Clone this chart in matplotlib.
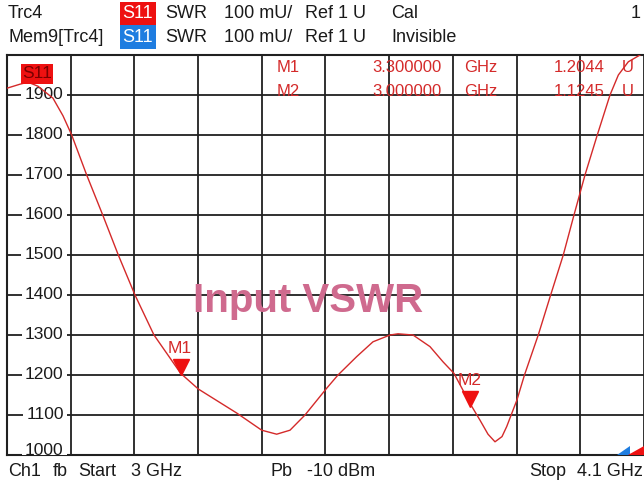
import matplotlib
matplotlib.use("Agg")
import matplotlib.pyplot as plt
import matplotlib.transforms as mtransforms
from matplotlib.patches import Rectangle, Polygon

plt.rcParams['font.family'] = ['Liberation Sans', 'DejaVu Sans']

# trace data: frequency (GHz) and SWR (mU)
freq = [3.000, 3.0224, 3.0363, 3.0535, 3.0794, 3.0967, 3.1117, 3.1376, 3.1653,
        3.1922, 3.2210, 3.2538, 3.3000, 3.3303, 3.3966, 3.4398, 3.4657, 3.4887,
        3.5146, 3.5521, 3.5716, 3.6039, 3.6320, 3.6614, 3.6752, 3.7011, 3.7304,
        3.7529, 3.7719, 3.7995, 3.8168, 3.8306, 3.8427, 3.8548, 3.8629, 3.8807,
        3.8936, 3.9174, 3.9388, 3.9606, 3.9791, 3.9981, 4.0193, 4.0413, 4.0557,
        4.0729, 4.0931, 4.1000]
swr = [1917, 1927, 1932, 1922, 1892, 1848, 1800, 1700, 1600,
       1500, 1400, 1300, 1204, 1165, 1105, 1062, 1052, 1062,
       1100, 1167, 1200, 1246, 1283, 1300, 1303, 1300, 1271,
       1233, 1204, 1129, 1087, 1052, 1033, 1046, 1071, 1138,
       1200, 1300, 1400, 1500, 1600, 1700, 1800, 1900, 1950,
       1983, 2000, 2012]

# markers
mk_names = ["M1", "M2"]
mk_freq = [3.3, 3.8]
mk_val = [1204.4, 1124.5]
mk_freq_text = ["3.300000", "3.000000"]
mk_val_text = ["1.2044", "1.1245"]

x_ticks = [3.0 + 0.11 * i for i in range(11)]
y_ticks = list(range(1000, 2001, 100))
y_labels = [str(v) for v in y_ticks[:-1]]

W, H = 644, 488
RED = '#d42a2a'
TXT = '#1a1a1a'

def px(x, y):
    # pixel position (from top left) -> figure fraction
    return x / W, 1 - y / H

fig = plt.figure(figsize=(W / 100, H / 100), dpi=100)
ax = fig.add_axes([7 / W, 33 / H, 637 / W, 400 / H])
ax.set_xlim(3.0, 4.1)
ax.set_ylim(1000, 2000)
ax.set_xticks(x_ticks)
ax.set_yticks(y_ticks)
ax.tick_params(length=0, labelbottom=False, labelleft=False)
ax.grid(True, color='#202020', lw=1.3)
for s in ['left', 'top', 'bottom']:
    ax.spines[s].set_color('#202020')
    ax.spines[s].set_linewidth(1.5)
ax.spines['right'].set_visible(False)

# y labels sit inside the grid with a white background
ytr = ax.get_yaxis_transform()
for v, lab in zip(y_ticks[:-1], y_labels):
    yy = 1012 if v == 1000 else v
    ax.text(0.089, yy, lab, transform=ytr, ha='right', va='center', fontsize=12.5,
            color=TXT, zorder=3, clip_on=True,
            bbox=dict(fc='white', ec='none', pad=2.5))

# trace
ax.plot(freq, swr, color=RED, lw=1.0, zorder=5, clip_on=True)

# marker triangles + labels
tri_tr = mtransforms.offset_copy(ax.transData, fig=fig, x=0, y=6.5, units='dots')
lab_tr = mtransforms.offset_copy(ax.transData, fig=fig, x=-1, y=25, units='dots')
for name, f, v in zip(mk_names, mk_freq, mk_val):
    ax.plot([f], [v], marker='v', ms=11, color='#ee1111', mec='#ee1111',
            transform=tri_tr, zorder=6)
    ax.text(f, v, name, transform=lab_tr, ha='center', va='center',
            fontsize=12.5, color=RED, zorder=6)

# marker readout table
for i, (name, ft, vt) in enumerate(zip(mk_names, mk_freq_text, mk_val_text)):
    y = 67 + 24 * i
    fig.text(*px(277, y), name, ha='left', va='center', fontsize=12, color=RED)
    fig.text(*px(442, y), ft, ha='right', va='center', fontsize=12, color=RED)
    fig.text(*px(464, y), "GHz", ha='left', va='center', fontsize=12, color=RED)
    fig.text(*px(605, y), vt, ha='right', va='center', fontsize=12, color=RED)
    fig.text(*px(622, y), "U", ha='left', va='center', fontsize=12, color=RED)

# S11 trace label in the plot
fig.patches.append(Rectangle(px(21, 84), 32 / W, 20 / H, transform=fig.transFigure,
                             fc='#ee1111', ec='none', zorder=4))
fig.text(*px(37, 74), "S11", ha='center', va='center', fontsize=12.5,
         color='#7a0000', zorder=7)

# big title inside the plot
ax.text(0.4725, 0.385, "Input VSWR", transform=ax.transAxes, ha='center', va='center',
        fontsize=29, fontweight='bold', color='#cf6a8e', zorder=4)

# header
hs = 13
fig.text(*px(8, 14), "Trc4", ha='left', va='center', fontsize=hs, color=TXT)
fig.text(*px(8, 38), "Mem9[Trc4]", ha='left', va='center', fontsize=hs, color=TXT)
fig.patches.append(Rectangle(px(120, 25), 36 / W, 23 / H, transform=fig.transFigure,
                             fc='#ee1111', ec='none'))
fig.patches.append(Rectangle(px(120, 49), 36 / W, 24 / H, transform=fig.transFigure,
                             fc='#1f7de0', ec='none'))
for y, txt in [(14, "Cal"), (38, "Invisible")]:
    fig.text(*px(138, y), "S11", ha='center', va='center', fontsize=hs, color='white')
    fig.text(*px(165, y), "SWR", ha='left', va='center', fontsize=hs, color=TXT)
    fig.text(*px(224, y), "100 mU/", ha='left', va='center', fontsize=hs, color=TXT)
    fig.text(*px(305, y), "Ref 1 U", ha='left', va='center', fontsize=hs, color=TXT)
    fig.text(*px(391, y), txt, ha='left', va='center', fontsize=hs, color=TXT)
fig.text(*px(631, 14), "1", ha='left', va='center', fontsize=hs, color=TXT)

# footer
fy = 472
fig.text(*px(8, fy), "Ch1", ha='left', va='center', fontsize=hs, color=TXT)
fig.text(*px(53, fy), "fb", ha='left', va='center', fontsize=hs, color=TXT)
fig.text(*px(78, fy), "Start", ha='left', va='center', fontsize=hs, color=TXT)
fig.text(*px(131, fy), "3 GHz", ha='left', va='center', fontsize=hs, color=TXT)
fig.text(*px(270, fy), "Pb", ha='left', va='center', fontsize=hs, color=TXT)
fig.text(*px(307, fy), "-10 dBm", ha='left', va='center', fontsize=hs, color=TXT)
fig.text(*px(529, fy), "Stop", ha='left', va='center', fontsize=hs, color=TXT)
fig.text(*px(643, fy), "4.1 GHz", ha='right', va='center', fontsize=hs, color=TXT)

# stop-frequency indicators at the bottom right
fig.patches.append(Polygon([px(617, 455), px(630, 455), px(630, 446)], closed=True,
                           transform=fig.transFigure, fc='#1f7de0', ec='none', zorder=8))
fig.patches.append(Polygon([px(628, 455), px(644, 455), px(644, 446)], closed=True,
                           transform=fig.transFigure, fc='#ee1111', ec='none', zorder=8))

fig.savefig("out.png", dpi=100, facecolor='white')
